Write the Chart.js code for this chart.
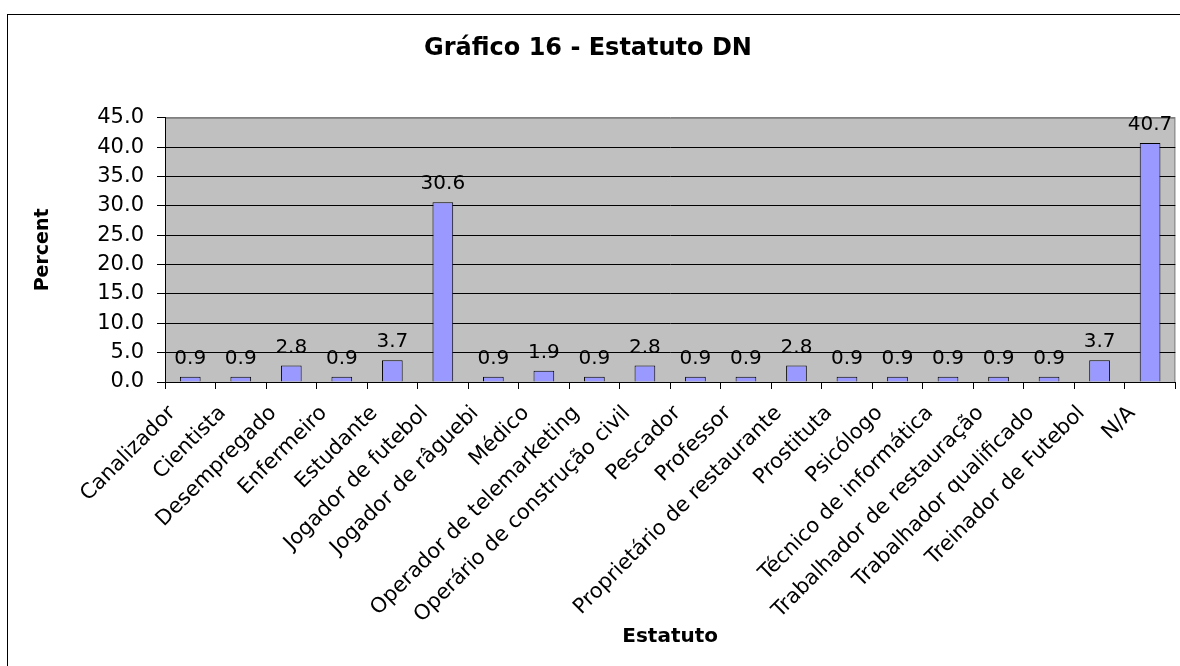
<!DOCTYPE html>
<html>
<head>
<meta charset="utf-8">
<title>Gráfico 16 - Estatuto DN</title>
<script src="https://cdn.jsdelivr.net/npm/chart.js@4.4.1/dist/chart.umd.min.js"></script>
<style>
  html, body { margin: 0; padding: 0; background: #fff; }
  #wrap { width: 1180px; height: 666px; }
</style>
</head>
<body>
<div id="wrap"><canvas id="chart" width="1180" height="666"></canvas></div>
<script>
// values
const categories = [
  'Canalizador', 'Cientista', 'Desempregado', 'Enfermeiro', 'Estudante',
  'Jogador de futebol', 'Jogador de râguebi', 'Médico', 'Operador de telemarketing',
  'Operário de construção civil', 'Pescador', 'Professor', 'Proprietário de restaurante',
  'Prostituta', 'Psicólogo', 'Técnico de informática', 'Trabalhador de restauração',
  'Trabalhador qualificado', 'Treinador de Futebol', 'N/A'
];
const percents = [0.9, 0.9, 2.8, 0.9, 3.7, 30.6, 0.9, 1.9, 0.9, 2.8, 0.9, 0.9, 2.8, 0.9, 0.9, 0.9, 0.9, 0.9, 3.7, 40.7];
const yMin = 0;
const yMax = 45;
const yStep = 5;

const chartTitle = 'Gráfico 16 - Estatuto DN';
const xTitle = 'Estatuto';
const yTitle = 'Percent';

Chart.defaults.font.family = '"DejaVu Sans", sans-serif';
Chart.defaults.color = '#000';

// white page, outer frame and the grey plot area
const framePlugin = {
  id: 'frame',
  beforeDraw(chart) {
    const { ctx, chartArea: a } = chart;
    ctx.save();
    ctx.fillStyle = '#fff';
    ctx.fillRect(0, 0, chart.width, chart.height);
    ctx.strokeStyle = '#000';
    ctx.lineWidth = 1;
    ctx.strokeRect(7.5, 14.5, chart.width + 20, chart.height + 20);
    ctx.fillStyle = '#c0c0c0';
    ctx.fillRect(a.left, a.top, a.right - a.left, a.bottom - a.top);
    ctx.strokeStyle = '#808080';
    ctx.strokeRect(a.left + 0.5, a.top + 0.5, a.right - a.left - 1, a.bottom - a.top);
    ctx.restore();
  }
};

// value printed above each bar
const valueLabels = {
  id: 'valueLabels',
  afterDatasetsDraw(chart) {
    const { ctx } = chart;
    const meta = chart.getDatasetMeta(0);
    ctx.save();
    ctx.font = '20px "DejaVu Sans", sans-serif';
    ctx.fillStyle = '#000';
    ctx.textAlign = 'center';
    ctx.textBaseline = 'alphabetic';
    meta.data.forEach((bar, i) => {
      ctx.fillText(percents[i].toFixed(1), bar.x, bar.y - 13);
    });
    ctx.restore();
  }
};

new Chart(document.getElementById('chart'), {
  type: 'bar',
  data: {
    labels: categories,
    datasets: [{
      data: percents,
      backgroundColor: '#9999ff',
      borderColor: '#000',
      borderWidth: 1,
      categoryPercentage: 1,
      barPercentage: 0.41
    }]
  },
  options: {
    responsive: false,
    animation: false,
    layout: { padding: { left: 0, right: 4, top: 0, bottom: 0 } },
    plugins: {
      legend: { display: false },
      tooltip: { enabled: false },
      title: {
        display: true,
        text: chartTitle,
        color: '#000',
        font: { size: 24, weight: 'bold' },
        padding: { top: 34, bottom: 55 }
      }
    },
    scales: {
      x: {
        offset: true,
        grid: {
          offset: true,
          drawOnChartArea: false,
          drawTicks: true,
          tickLength: 7,
          color: '#000'
        },
        border: { display: true, color: '#000', width: 1 },
        ticks: {
          autoSkip: false,
          maxRotation: 45,
          minRotation: 45,
          padding: 12,
          labelOffset: -18,
          color: '#000',
          font: { size: 21 }
        },
        title: {
          display: true,
          text: xTitle,
          color: '#000',
          font: { size: 20, weight: 'bold' },
          padding: { top: 0, bottom: 17 }
        },
        afterFit(scale) { scale.height = 284; }
      },
      y: {
        min: yMin,
        max: yMax,
        grid: {
          color: (c) => (c.tick && c.tick.value === yMax ? '#808080' : '#000'),
          tickColor: '#000',
          tickLength: 8,
          lineWidth: 1
        },
        border: { display: true, color: '#000', width: 1 },
        ticks: {
          stepSize: yStep,
          padding: 13,
          color: '#000',
          font: { size: 21 },
          callback: (v) => Number(v).toFixed(1)
        },
        title: {
          display: true,
          text: yTitle,
          color: '#000',
          font: { size: 19, weight: 'bold' },
          padding: { top: 32, bottom: 0 }
        },
        afterFit(scale) { scale.width = 165; }
      }
    }
  },
  plugins: [framePlugin, valueLabels]
});
</script>
</body>
</html>
